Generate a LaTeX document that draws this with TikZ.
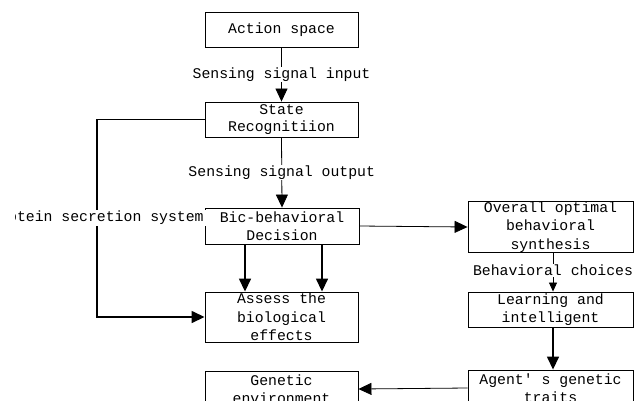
\documentclass[tikz,border=0pt]{standalone}
\usepackage{fontspec}
\newfontfamily\diagfont{Liberation Mono}
\usetikzlibrary{arrows.meta,calc}
\begin{document}
\begin{tikzpicture}[x=1pt,y=-1pt,
  font=\diagfont\fontsize{14.8}{18.5}\selectfont,
  box/.style={draw, line width=0.9pt, inner sep=0pt, align=center},
  lbl/.style={fill=white, inner xsep=2.5pt, inner ysep=1pt},
  thin/.style={line width=0.8pt, -{Triangle[width=12pt,length=13pt]}},
  thick/.style={line width=1.5pt, -{Triangle[width=12pt,length=13pt]}},
  small/.style={line width=0.8pt, -{Triangle[width=8pt,length=9pt]}}]
\useasboundingbox (0,0) rectangle (634,400);
\clip (0,0) rectangle (634,400);
\fill[white] (0,0) rectangle (634,400);
% left column
\node[box, minimum width=153pt, minimum height=35pt] (action) at (281.5,29.5) {Action space};
\node[box, minimum width=153pt, minimum height=35pt] (state) at (281.5,119.5) {State\\[-1pt]Recognitiion};
\node[box, minimum width=154pt, minimum height=36pt] (bio) at (282,226) {Bic-behavioral\\Decision};
\node[box, minimum width=153pt, minimum height=50pt] (assess) at (281.5,317) {Assess the\\biological\\effects};
\node[box, minimum width=153pt, minimum height=36pt] (genetic) at (281.5,389) {Genetic\\environment};
% right column
\node[box, minimum width=165pt, minimum height=50pt] (overall) at (550.5,227) {Overall optimal\\behavioral\\synthesis};
\node[box, minimum width=165pt, minimum height=35pt] (learning) at (550.5,309.5) {Learning and\\intelligent};
\node[box, minimum width=165pt, minimum height=36pt] (agent) at (550.5,388) {Agent' s genetic\\traits};
% helper coordinates
\coordinate (pl) at (97,0);
\coordinate (ca) at (245,0);
\coordinate (cb) at (322,0);
\coordinate (vx) at (553,0);
% connectors
\draw[thin] (action.south) -- node[lbl] {Sensing signal input} (state.north);
\draw[thin] (state.south) -- node[lbl] {Sensing signal output} (bio.north);
\draw[thick] (state.west) -- (state.west -| pl) -- (pl |- assess.west) -- (assess.west);
\begin{scope}
  \clip (15,200) rectangle (240,240);
  \node[lbl, inner xsep=2.5pt] (prot) at (97,218) {Protein secretion system};
\end{scope}
\draw[thick] (bio.south -| ca) -- (assess.north -| ca);
\draw[thick] (bio.south -| cb) -- (assess.north -| cb);
\draw[thin] (bio.east) -- (overall.west);
\draw[small] (overall.south -| vx) -- node[lbl, pos=0.45] {Behavioral choices} (learning.north -| vx);
\draw[thick] (learning.south -| vx) -- (agent.north -| vx);
\draw[thin] (agent.west) -- (genetic.east);
\end{tikzpicture}
\end{document}
